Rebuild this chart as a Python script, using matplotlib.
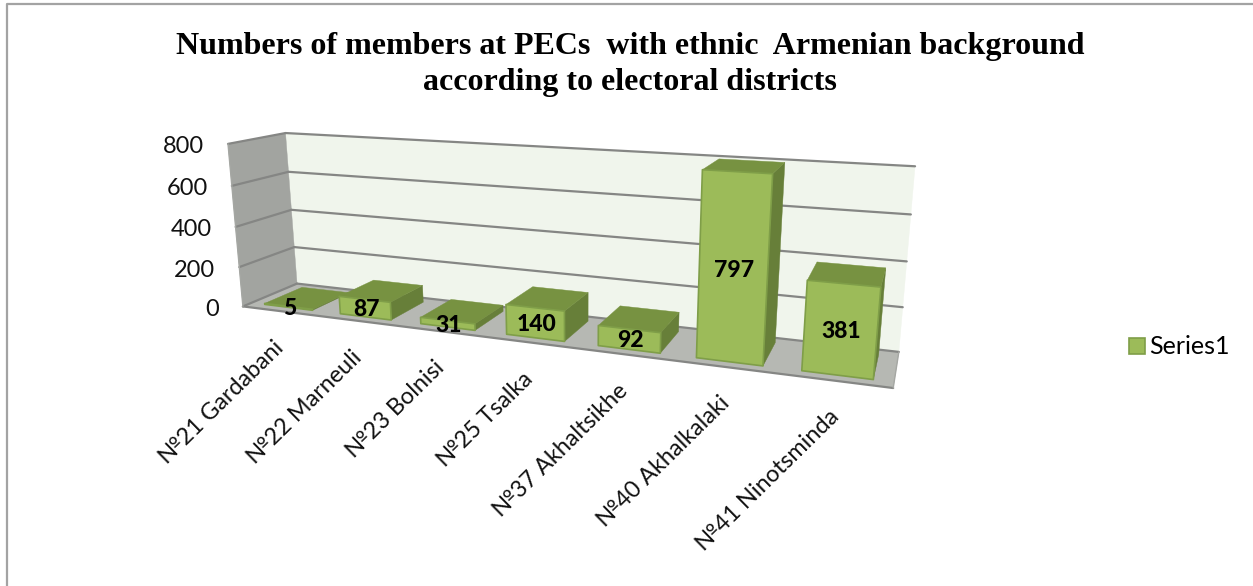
import numpy as np
import matplotlib
matplotlib.use("Agg")
import matplotlib.pyplot as plt
from matplotlib.patches import Polygon, Patch

categories = ["№21 Gardabani", "№22 Marneuli", "№23 Bolnisi", "№25 Tsalka",
              "№37 Akhaltsikhe", "№40 Akhalkalaki", "№41 Ninotsminda"]
values = [5, 87, 31, 140, 92, 797, 381]
value_ticks = [0, 200, 400, 600, 800]
series_name = "Series1"
title = "Numbers of members at PECs  with ethnic  Armenian background\naccording to electoral districts"

W, H = 1253, 586
BAR_FILL = 0.64
DEPTH_FRONT, DEPTH_BACK = 0.15, 0.85

# Camera: the eight corners of the chart box (category, depth, value) and where they land.
box_world = np.array([[0, 0, 0], [7, 0, 0], [0, 1, 0], [7, 1, 0],
                      [0, 0, 800], [7, 0, 800], [0, 1, 800], [7, 1, 800]], float)
box_screen = np.array([[243, 307], [893, 388], [297, 283], [899, 352],
                       [228, 144], [911, 183], [285.5, 133], [915, 167]], float)


def fit_camera(world, screen):
    w = world / np.array([7.0, 1.0, 800.0])
    rows = []
    for (a, b, c), (x, y) in zip(w, screen):
        rows.append([a, b, c, 1, 0, 0, 0, 0, -x * a, -x * b, -x * c, -x])
        rows.append([0, 0, 0, 0, a, b, c, 1, -y * a, -y * b, -y * c, -y])
    return np.linalg.svd(np.array(rows))[2][-1].reshape(3, 4)


CAMERA = fit_camera(box_world, box_screen)


def project(cat, depth, value):
    p = CAMERA @ np.array([cat / 7.0, depth, value / 800.0, 1.0])
    return p[0] / p[2], p[1] / p[2]


fig = plt.figure(figsize=(W / 100, H / 100), dpi=100, facecolor="white")
ax = fig.add_axes([0, 0, 1, 1])
ax.set_xlim(0, W)
ax.set_ylim(H, 0)
ax.axis("off")


def face(points, color, edge=None, lw=0.0, z=1):
    ax.add_patch(Polygon([project(*p) for p in points], closed=True, facecolor=color,
                         edgecolor=edge if edge else color, linewidth=lw if edge else 0.3,
                         joinstyle="round", zorder=z))


def segment(a, b, color="#858684", lw=1.6, z=2):
    pa, pb = project(*a), project(*b)
    ax.plot([pa[0], pb[0]], [pa[1], pb[1]], color=color, lw=lw, zorder=z, solid_capstyle="round")


# Frame around the chart area
ax.plot([7, 7, W], [H, 4, 4], color="#a3a3a3", lw=1.6, zorder=0)

# Walls and floor
face([(0, 1, 0), (7, 1, 0), (7, 1, 800), (0, 1, 800)], "#f0f5ec")
face([(0, 0, 0), (0, 1, 0), (0, 1, 800), (0, 0, 800)], "#a2a4a0")
face([(0, 0, 0), (7, 0, 0), (7, 1, 0), (0, 1, 0)], "#b6b8b3")

for v in value_ticks:
    segment((0, 0, v), (0, 1, v))
    segment((0, 1, v), (7, 1, v))
segment((0, 0, 0), (7, 0, 0))
segment((7, 0, 0), (7, 1, 0), color="#a5a7a3", lw=1.0)
segment((0, 0, 0), (0, 0, 800), color="#a5a7a3", lw=1.0)

# Bars, left to right
for i, val in enumerate(values):
    a = i + (1 - BAR_FILL) / 2
    b = i + (1 + BAR_FILL) / 2
    f, k = DEPTH_FRONT, DEPTH_BACK
    z = 3 + i
    face([(b, f, 0), (b, k, 0), (b, k, val), (b, f, val)], "#677f39", z=z)
    face([(a, f, val), (b, f, val), (b, k, val), (a, k, val)], "#779241", z=z)
    face([(a, f, 0), (b, f, 0), (b, f, val), (a, f, val)], "#9cbb59",
         edge="#7f9e48", lw=1.2, z=z)

# Value labels sit at the middle of each front face
for i, val in enumerate(values):
    x, y = project(i + 0.5, DEPTH_FRONT, val / 2)
    ax.text(x + 1, y + 1.5, str(val), ha="center", va="center", family="Lato",
            fontweight="black", fontsize=16.5, color="black", zorder=20)

# Value axis labels
for v in value_ticks:
    x, y = project(0, 0, v)
    ax.text(x - 24, y + 3, str(v), ha="right", va="center", family="Lato",
            fontsize=17, color="#111111", zorder=20)

# Category labels
for i, name in enumerate(categories):
    x, y = project(i + 0.5, 0, 0)
    ax.text(x + 0.5, y + 33, name, rotation=44.5, rotation_mode="anchor", ha="right", va="center",
            family="Lato", fontsize=16.8, color="#111111", zorder=20)

ax.text(630, 64.5, title, ha="center", va="center", family="Liberation Serif",
        fontweight="bold", fontsize=23, linespacing=1.34, color="black", zorder=20)

ax.legend(handles=[Patch(facecolor="#9cbb59", edgecolor="#7f9e48", linewidth=1.2, label=series_name)],
          loc="center left", bbox_to_anchor=(1124 / W, 1 - 347 / H), bbox_transform=fig.transFigure,
          frameon=False, prop={"family": "Lato", "size": 18},
          handlelength=0.62, handleheight=0.62, handletextpad=0.2, borderpad=0.2, borderaxespad=0)

fig.savefig("out.png", dpi=100, facecolor="white")
